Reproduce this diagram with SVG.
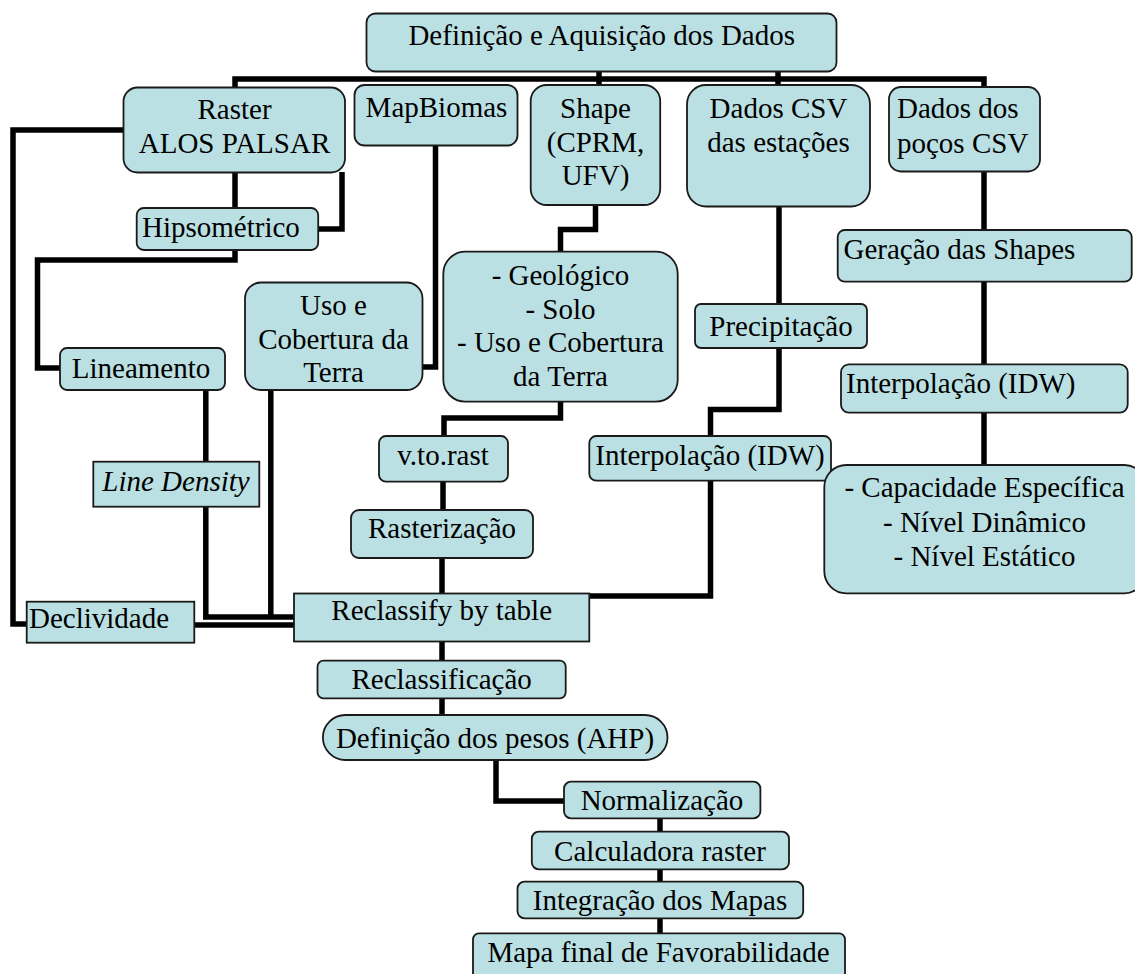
<svg xmlns="http://www.w3.org/2000/svg" width="1135" height="974" viewBox="0 0 1135 974">
<rect width="1135" height="974" fill="#fff"/>
<g id="connectors" fill="none" stroke="#000" stroke-width="5.5" stroke-linejoin="miter" stroke-linecap="butt">
<path d="M235 88V79H984V88"/>
<path d="M599 71V86"/>
<path d="M778 71V86"/>
<path d="M235 172V208"/>
<path d="M342 172V229H318"/>
<path d="M235 250V260H37.5V368H60"/>
<path d="M124 130H13V624H27"/>
<path d="M435.5 145V367H422"/>
<path d="M595.5 205V229.5H560.5V252"/>
<path d="M560.5 402V418H444V436"/>
<path d="M443 482V510"/>
<path d="M442 558V594"/>
<path d="M779 207V304"/>
<path d="M779 348V409.5H710.5V436"/>
<path d="M710.5 481V596H589"/>
<path d="M984 172V230"/>
<path d="M984 282V364"/>
<path d="M984 413V465"/>
<path d="M205.8 390V462"/>
<path d="M205.8 507V617H294"/>
<path d="M270.8 390V617"/>
<path d="M194 625H294"/>
<path d="M442 641V661"/>
<path d="M442 698V715"/>
<path d="M496 760V801H564"/>
<path d="M660 818V832"/>
<path d="M660 869V882"/>
<path d="M660 918V934"/>
</g>
<g id="nodes" font-family="Liberation Serif" font-size="29" fill="#000">
<g id="n-def"><rect fill="#bbe0e3" stroke="#1a1a1a" stroke-width="1.8" x="366.5" y="13.5" width="470" height="58" rx="9"/><text text-anchor="middle" x="601.7" y="44.5">Definição e Aquisição dos Dados</text></g>
<g id="n-raster"><rect fill="#bbe0e3" stroke="#1a1a1a" stroke-width="1.8" x="123.5" y="87.5" width="221.5" height="85" rx="14"/><text text-anchor="middle" x="234.5" y="119">Raster</text><text text-anchor="middle" x="234.5" y="153">ALOS PALSAR</text></g>
<g id="n-mapbiomas"><rect fill="#bbe0e3" stroke="#1a1a1a" stroke-width="1.8" x="354.5" y="85" width="163" height="60.5" rx="10"/><text text-anchor="middle" x="436.5" y="117">MapBiomas</text></g>
<g id="n-shape"><rect fill="#bbe0e3" stroke="#1a1a1a" stroke-width="1.8" x="530.7" y="85" width="129.5" height="120" rx="16"/><text text-anchor="middle" x="595.5" y="118">Shape</text><text text-anchor="middle" x="595.5" y="151.5">(CPRM,</text><text text-anchor="middle" x="595.5" y="185">UFV)</text></g>
<g id="n-csv"><rect fill="#bbe0e3" stroke="#1a1a1a" stroke-width="1.8" x="687" y="85" width="183" height="121.5" rx="19"/><text text-anchor="middle" x="778.5" y="118">Dados CSV</text><text text-anchor="middle" x="778.5" y="152">das estações</text></g>
<g id="n-pocos"><rect fill="#bbe0e3" stroke="#1a1a1a" stroke-width="1.8" x="889" y="87" width="151" height="84.5" rx="12"/><text x="897" y="118">Dados dos</text><text x="897" y="153">poços CSV</text></g>
<g id="n-hips"><rect fill="#bbe0e3" stroke="#1a1a1a" stroke-width="1.8" x="136.7" y="208" width="181.5" height="42" rx="7"/><text x="142" y="237">Hipsométrico</text></g>
<g id="n-geracao"><rect fill="#bbe0e3" stroke="#1a1a1a" stroke-width="1.8" x="837.7" y="230" width="294" height="51.7" rx="7"/><text x="843.5" y="259">Geração das Shapes</text></g>
<g id="n-uso"><rect fill="#bbe0e3" stroke="#1a1a1a" stroke-width="1.8" x="245" y="282.5" width="177.5" height="107.5" rx="16"/><text text-anchor="middle" x="333.5" y="315">Uso e</text><text text-anchor="middle" x="333.5" y="348.5">Cobertura da</text><text text-anchor="middle" x="333.5" y="382">Terra</text></g>
<g id="n-geo"><rect fill="#bbe0e3" stroke="#1a1a1a" stroke-width="1.8" x="443.3" y="251.7" width="234.4" height="150" rx="22"/><text text-anchor="middle" x="560.5" y="285">- Geológico</text><text text-anchor="middle" x="560.5" y="318.5">- Solo</text><text text-anchor="middle" x="560.5" y="352">- Uso e Cobertura</text><text text-anchor="middle" x="560.5" y="385.5">da Terra</text></g>
<g id="n-precip"><rect fill="#bbe0e3" stroke="#1a1a1a" stroke-width="1.8" x="695" y="304" width="172" height="44" rx="6"/><text text-anchor="middle" x="781" y="336">Precipitação</text></g>
<g id="n-linea"><rect fill="#bbe0e3" stroke="#1a1a1a" stroke-width="1.8" x="60" y="348" width="165" height="42" rx="7"/><text text-anchor="middle" x="141" y="378">Lineamento</text></g>
<g id="n-interp2"><rect fill="#bbe0e3" stroke="#1a1a1a" stroke-width="1.8" x="841" y="364.3" width="286.7" height="48.4" rx="8"/><text x="846" y="392.7">Interpolação (IDW)</text></g>
<g id="n-vtorast"><rect fill="#bbe0e3" stroke="#1a1a1a" stroke-width="1.8" x="379" y="436" width="129" height="45.7" rx="7"/><text text-anchor="middle" x="443" y="465">v.to.rast</text></g>
<g id="n-interp1"><rect fill="#bbe0e3" stroke="#1a1a1a" stroke-width="1.8" x="589.3" y="436" width="241.7" height="44.7" rx="7"/><text text-anchor="middle" x="710" y="465">Interpolação (IDW)</text></g>
<g id="n-linedens"><rect fill="#bbe0e3" stroke="#1a1a1a" stroke-width="1.8" x="93.3" y="461.7" width="166" height="45"/><text font-style="italic" text-anchor="middle" x="176" y="490.7">Line Density</text></g>
<g id="n-cap"><rect fill="#bbe0e3" stroke="#1a1a1a" stroke-width="1.8" x="824.3" y="465" width="322" height="128.3" rx="22"/><text text-anchor="middle" x="984.5" y="496.7">- Capacidade Específica</text><text text-anchor="middle" x="984.5" y="531.7">- Nível Dinâmico</text><text text-anchor="middle" x="984.5" y="566">- Nível Estático</text></g>
<g id="n-rasteriz"><rect fill="#bbe0e3" stroke="#1a1a1a" stroke-width="1.8" x="351" y="510" width="182" height="48" rx="8"/><text text-anchor="middle" x="442" y="538">Rasterização</text></g>
<g id="n-reclass"><rect fill="#bbe0e3" stroke="#1a1a1a" stroke-width="1.8" x="294" y="593.5" width="295.3" height="48"/><text text-anchor="middle" x="441.7" y="620">Reclassify by table</text></g>
<g id="n-decliv"><rect fill="#bbe0e3" stroke="#1a1a1a" stroke-width="1.8" x="26.7" y="601.7" width="167.6" height="41"/><text x="29" y="628">Declividade</text></g>
<g id="n-reclassif"><rect fill="#bbe0e3" stroke="#1a1a1a" stroke-width="1.8" x="317.5" y="660.7" width="248.2" height="37.6" rx="6"/><text text-anchor="middle" x="441.6" y="689.3">Reclassificação</text></g>
<g id="n-ahp"><rect fill="#bbe0e3" stroke="#1a1a1a" stroke-width="1.8" x="322.9" y="715" width="344.6" height="45" rx="22.5"/><text text-anchor="middle" x="495" y="748.3">Definição dos pesos (AHP)</text></g>
<g id="n-norm"><rect fill="#bbe0e3" stroke="#1a1a1a" stroke-width="1.8" x="564" y="781.7" width="196.4" height="36.6" rx="7"/><text text-anchor="middle" x="662" y="810">Normalização</text></g>
<g id="n-calc"><rect fill="#bbe0e3" stroke="#1a1a1a" stroke-width="1.8" x="531.8" y="831.7" width="257.2" height="37.6" rx="7"/><text text-anchor="middle" x="660" y="860.7">Calculadora raster</text></g>
<g id="n-integ"><rect fill="#bbe0e3" stroke="#1a1a1a" stroke-width="1.8" x="517.5" y="881.7" width="285.7" height="36.6" rx="7"/><text text-anchor="middle" x="660" y="910">Integração dos Mapas</text></g>
<g id="n-mapa"><rect fill="#bbe0e3" stroke="#1a1a1a" stroke-width="1.8" x="473" y="933.3" width="372" height="50" rx="6"/><text text-anchor="middle" x="658.5" y="962">Mapa final de Favorabilidade</text></g>
</g>
</svg>
